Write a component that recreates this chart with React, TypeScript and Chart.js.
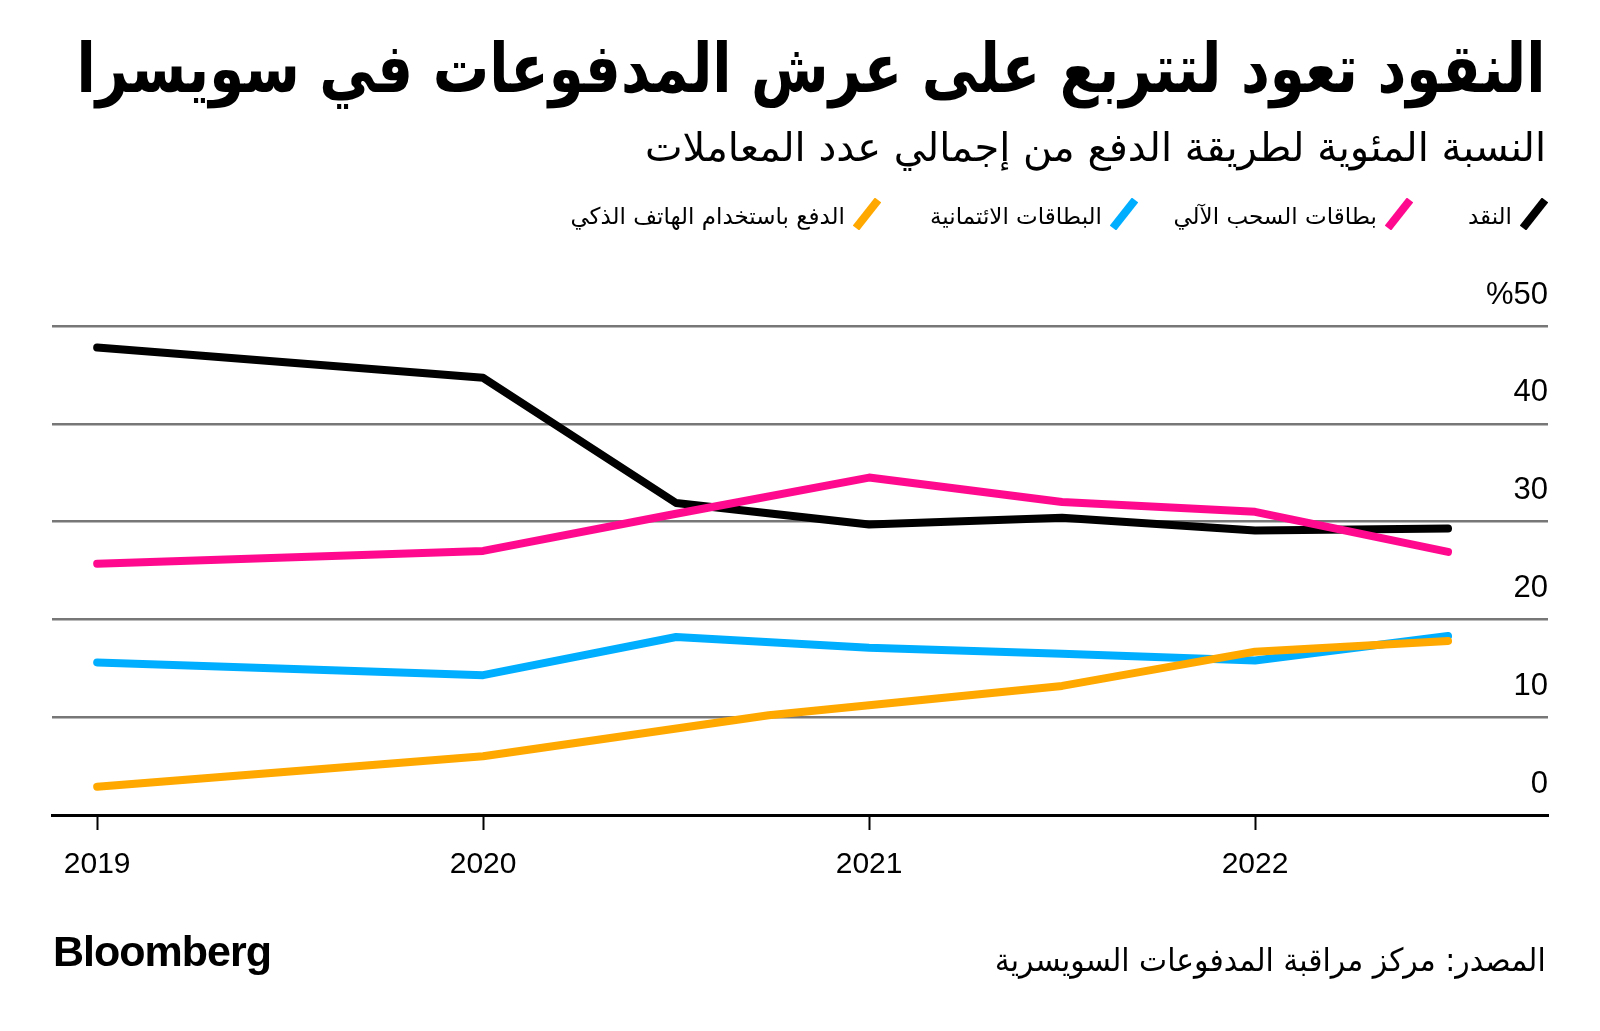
import React, { useEffect, useRef } from "react";
import { Chart, registerables } from "chart.js";

Chart.register(...registerables);

const TITLE = "النقود تعود لتتربع على عرش المدفوعات في سويسرا";
const SUBTITLE = "النسبة المئوية لطريقة الدفع من إجمالي عدد المعاملات";
const SOURCE = "المصدر: مركز مراقبة المدفوعات السويسرية";
const BRAND = "Bloomberg";

const SERIES_NAMES = [
  "النقد",
  "بطاقات السحب الآلي",
  "البطاقات الائتمانية",
  "الدفع باستخدام الهاتف الذكي",
];
const SERIES_COLORS = ["#000000", "#ff0a8f", "#00aeff", "#ffa800"];

const YEAR_TICKS = [2019, 2020, 2021, 2022];
const Y_TICKS = [0, 10, 20, 30, 40, 50];

const PERIODS = [2019, 2020, 2020.5, 2021, 2021.5, 2022, 2022.5];
const CASH = [47.8, 44.7, 31.9, 29.7, 30.4, 29.1, 29.3];
const DEBIT = [25.7, 27.0, 30.8, 34.5, 32.0, 31.0, 26.9];
const CREDIT = [15.6, 14.3, 18.2, 17.1, 16.5, 15.8, 18.3];
const MOBILE_PERIODS = [2019, 2020, 2020.74, 2021.5, 2022, 2022.5];
const MOBILE = [2.9, 6.0, 10.2, 13.2, 16.7, 17.8];

const ARABIC_FONT = "'DejaVu Sans', sans-serif";
const NUM_FONT = "'Liberation Sans', Arial, sans-serif";

function pts(xs: number[], ys: number[]) {
  return xs.map((x, i) => ({ x, y: ys[i] }));
}

function FitText(props: {
  text: string;
  right: number;
  top: number;
  width: number;
  size: number;
  weight?: number;
}) {
  const ref = useRef<HTMLSpanElement | null>(null);
  useEffect(() => {
    const el = ref.current;
    if (!el) return;
    el.style.transform = "none";
    const w = el.getBoundingClientRect().width;
    if (w > 0) el.style.transform = `scaleX(${props.width / w})`;
  }, [props.text, props.width]);
  return (
    <span
      ref={ref}
      dir="rtl"
      style={{
        position: "absolute",
        right: 1600 - props.right,
        top: props.top,
        fontFamily: ARABIC_FONT,
        fontSize: props.size,
        fontWeight: props.weight ?? 400,
        lineHeight: 1,
        whiteSpace: "nowrap",
        transformOrigin: "right center",
        color: "#000",
      }}
    >
      {props.text}
    </span>
  );
}

function LegendIcon({ color }: { color: string }) {
  return (
    <svg width="28" height="32" viewBox="0 0 28 32" style={{ display: "block" }}>
      <line x1="3" y1="30" x2="25" y2="2" stroke={color} strokeWidth="8" strokeLinecap="butt" />
    </svg>
  );
}

const LEGEND_RIGHTS = [1548, 1413, 1138, 881];

export default function App() {
  const canvasRef = useRef<HTMLCanvasElement | null>(null);

  useEffect(() => {
    const canvas = canvasRef.current;
    if (!canvas) return;
    const seriesData = [
      { data: pts(PERIODS, CASH), order: 3 },
      { data: pts(PERIODS, DEBIT), order: 0 },
      { data: pts(PERIODS, CREDIT), order: 2 },
      { data: pts(MOBILE_PERIODS, MOBILE), order: 1 },
    ];
    const chart = new Chart(canvas, {
      type: "line",
      data: {
        datasets: seriesData.map((s, i) => ({
          label: SERIES_NAMES[i],
          data: s.data,
          order: s.order,
          borderColor: SERIES_COLORS[i],
          backgroundColor: SERIES_COLORS[i],
          borderWidth: 8,
          borderCapStyle: "round",
          borderJoinStyle: "round",
          pointRadius: 0,
          tension: 0,
          fill: false,
        })),
      },
      options: {
        animation: false,
        responsive: false,
        maintainAspectRatio: false,
        layout: { padding: { left: 52, right: 52, top: 326, bottom: 136 } },
        plugins: {
          legend: { display: false },
          tooltip: { enabled: false },
          title: { display: false },
        },
        scales: {
          x: {
            type: "linear",
            min: 2018.883,
            max: 2022.759,
            afterBuildTicks: (scale: any) => {
              scale.ticks = YEAR_TICKS.map((v) => ({ value: v }));
            },
            afterFit: (scale: any) => {
              scale.height = 80;
            },
            grid: {
              display: true,
              drawOnChartArea: false,
              drawTicks: true,
              tickLength: 15,
              tickColor: "#000",
              tickWidth: 2,
            },
            border: { display: true, color: "#000", width: 3 },
            ticks: {
              autoSkip: false,
              maxRotation: 0,
              padding: 17,
              color: "#000",
              font: { family: NUM_FONT, size: 30 },
              callback: (v: any) => String(v),
            },
          },
          y: {
            type: "linear",
            position: "right",
            min: 0,
            max: 50,
            afterBuildTicks: (scale: any) => {
              scale.ticks = Y_TICKS.map((v) => ({ value: v }));
            },
            afterFit: (scale: any) => {
              scale.width = 0;
            },
            grid: {
              drawTicks: false,
              lineWidth: 2.5,
              color: (ctx: any) => (ctx.tick && ctx.tick.value === 0 ? "rgba(0,0,0,0)" : "#777777"),
            },
            border: { display: false },
            ticks: {
              mirror: true,
              padding: 0,
              labelOffset: -31,
              color: "#000",
              font: { family: NUM_FONT, size: 31 },
              callback: (v: any) => (v === 50 ? "%50" : String(v)),
            },
          },
        },
      },
    } as any);
    return () => chart.destroy();
  }, []);

  return (
    <div
      style={{
        position: "absolute",
        left: 0,
        top: 0,
        width: 1600,
        height: 1031,
        background: "#fff",
        overflow: "hidden",
      }}
    >
      <canvas
        ref={canvasRef}
        width={1600}
        height={1031}
        style={{ position: "absolute", left: 0, top: 0, width: 1600, height: 1031 }}
      />
      <FitText text={TITLE} right={1546} top={35} width={1469} size={68} weight={700} />
      <FitText text={SUBTITLE} right={1546} top={127} width={901} size={40} />
      {SERIES_NAMES.map((name, i) => (
        <div
          key={name}
          dir="rtl"
          style={{
            position: "absolute",
            right: 1600 - LEGEND_RIGHTS[i],
            top: 198,
            height: 32,
            display: "flex",
            alignItems: "center",
            gap: 8,
            whiteSpace: "nowrap",
          }}
        >
          <LegendIcon color={SERIES_COLORS[i]} />
          <span style={{ fontFamily: ARABIC_FONT, fontSize: 23, lineHeight: 1, color: "#000", position: "relative", top: 2 }}>{name}</span>
        </div>
      ))}
      <FitText text={SOURCE} right={1546} top={944} width={551} size={32} />
      <div
        style={{
          position: "absolute",
          left: 53,
          top: 930,
          fontFamily: NUM_FONT,
          fontWeight: 700,
          fontSize: 43,
          lineHeight: 1,
          letterSpacing: -1,
          color: "#000",
        }}
      >
        {BRAND}
      </div>
    </div>
  );
}
